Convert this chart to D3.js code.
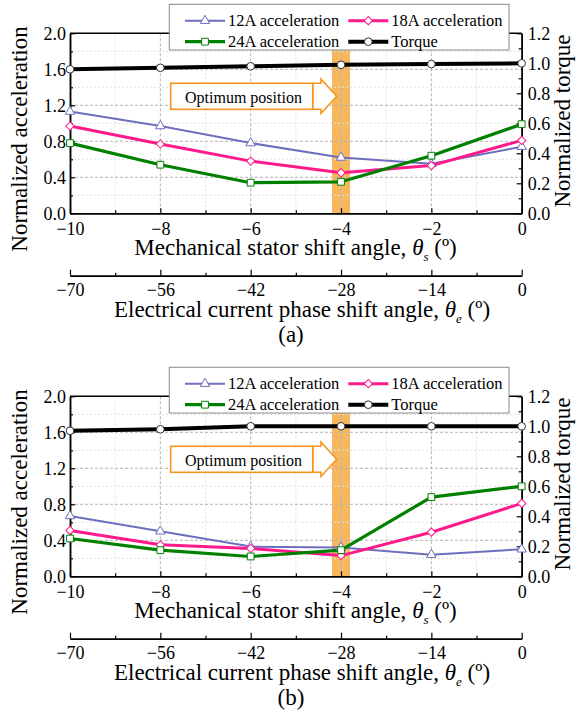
<!DOCTYPE html>
<html>
<head>
<meta charset="utf-8">
<script src="https://cdn.jsdelivr.net/npm/d3@7"></script>
<style>
body { margin: 0; background: #fff; }
svg { font-family: "Liberation Serif", "Times New Roman", serif; }
</style>
</head>
<body>
<svg id="chart" width="579" height="711"></svg>
<script>
/** x values: mechanical stator shift angle (deg) and the matching electrical axis */
var statorAngles = [-10, -8, -6, -4, -2, 0];
var statorMinor = [-9, -7, -5, -3, -1];
var electricalTicks = [-70, -56, -42, -28, -14, 0];
var electricalMinor = [-63, -49, -35, -21, -7];

/** y ticks */
var accelTicks = [0, 0.4, 0.8, 1.2, 1.6, 2.0];
var accelMinor = [0.2, 0.6, 1.0, 1.4, 1.8];
var torqueTicks = [0, 0.2, 0.4, 0.6, 0.8, 1.0, 1.2];
var torqueMinor = [0.1, 0.3, 0.5, 0.7, 0.9, 1.1];

/** panel (a) */
var accel12A_a = [1.13, 0.97, 0.78, 0.62, 0.55, 0.74];
var accel18A_a = [0.97, 0.77, 0.58, 0.45, 0.53, 0.81];
var accel24A_a = [0.78, 0.54, 0.34, 0.35, 0.64, 0.99];
var torque_a = [0.96, 0.97, 0.98, 0.99, 0.995, 1.0];

/** panel (b) */
var accel12A_b = [0.67, 0.50, 0.33, 0.32, 0.24, 0.30];
var accel18A_b = [0.51, 0.35, 0.31, 0.23, 0.49, 0.81];
var accel24A_b = [0.42, 0.29, 0.22, 0.29, 0.88, 1.0];
var torque_b = [0.97, 0.98, 1.0, 1.0, 1.0, 1.0];

var seriesNames = ['12A acceleration', '18A acceleration', '24A acceleration', 'Torque'];
var panelLabels = ['(a)', '(b)'];
var optimumBand = [-4.2, -3.8];
var optimumText = 'Optimum position';

/** layout */
var plotLeft = 70,
    plotRight = 521.7,
    plotTop = 33.3,
    plotBottom = 213.3,
    elecAxisY = 275.7,
    panelShift = 363;

var serif = '"Liberation Serif", "Times New Roman", serif';

var svg = d3.select('#chart');

var x = d3.scaleLinear().domain([-10, 0]).range([plotLeft, plotRight]);
var xe = d3.scaleLinear().domain([-70, 0]).range([plotLeft, plotRight]);
var y = d3.scaleLinear().domain([0, 2]).range([plotBottom, plotTop]);
var yT = d3.scaleLinear().domain([0, 1.2]).range([plotBottom, plotTop]);

var styles = [
    {color: '#6e6ebf', width: 2, symbol: d3.symbolTriangle, size: 38, rot: 0},
    {color: '#ff1a8c', width: 3, symbol: d3.symbolSquare, size: 34, rot: 45},
    {color: '#008000', width: 3.2, symbol: d3.symbolSquare, size: 46, rot: 0},
    {color: '#000000', width: 4, symbol: d3.symbolCircle, size: 46, rot: 0}
];

function styleAxis(g) {
    g.attr('font-family', serif);
    g.select('.domain').attr('stroke', '#000').attr('stroke-width', 1.5);
    g.selectAll('.tick line').attr('stroke', '#000').attr('stroke-width', 1.2);
    g.selectAll('.tick text').attr('fill', '#000').style('font-size', '18px');
}

function minorAxis(g) {
    styleAxis(g);
    g.selectAll('.tick text').remove();
}

function drawPanel(idx, series) {
    var g = svg.append('g').attr('transform', 'translate(0,' + (idx * panelShift) + ')');

    // optimum band
    g.append('rect')
        .attr('x', x(optimumBand[0]))
        .attr('y', plotTop)
        .attr('width', x(optimumBand[1]) - x(optimumBand[0]))
        .attr('height', plotBottom - plotTop)
        .attr('fill', '#f7b75f');

    // grid
    g.selectAll('.gminor').data(accelMinor).enter().append('line')
        .attr('x1', plotLeft).attr('x2', plotRight)
        .attr('y1', function (d) { return y(d); }).attr('y2', function (d) { return y(d); })
        .attr('stroke', '#e2e2e2').attr('stroke-dasharray', '2,2');
    g.selectAll('.gminorx').data(statorMinor).enter().append('line')
        .attr('y1', plotTop).attr('y2', plotBottom)
        .attr('x1', function (d) { return x(d); }).attr('x2', function (d) { return x(d); })
        .attr('stroke', '#e2e2e2').attr('stroke-dasharray', '2,2');
    g.selectAll('.gmajor').data(accelTicks.slice(1, -1)).enter().append('line')
        .attr('x1', plotLeft).attr('x2', plotRight)
        .attr('y1', function (d) { return y(d); }).attr('y2', function (d) { return y(d); })
        .attr('stroke', '#b4b4b4').attr('stroke-dasharray', '3,2');
    g.selectAll('.gmajorx').data(statorAngles.slice(1, -1)).enter().append('line')
        .attr('y1', plotTop).attr('y2', plotBottom)
        .attr('x1', function (d) { return x(d); }).attr('x2', function (d) { return x(d); })
        .attr('stroke', '#b4b4b4').attr('stroke-dasharray', '3,2');

    // frame + axes
    g.append('line').attr('x1', plotLeft).attr('x2', plotRight)
        .attr('y1', plotTop).attr('y2', plotTop)
        .attr('stroke', '#000').attr('stroke-width', 1.5);

    g.append('g').attr('transform', 'translate(0,' + plotBottom + ')')
        .call(d3.axisBottom(x).tickValues(statorMinor).tickSize(-3).tickSizeOuter(0))
        .call(minorAxis);
    g.append('g').attr('transform', 'translate(0,' + plotBottom + ')')
        .call(d3.axisBottom(x).tickValues(statorAngles).tickSize(-5).tickSizeOuter(0).tickPadding(9))
        .call(styleAxis);

    g.append('g').attr('transform', 'translate(' + plotLeft + ',0)')
        .call(d3.axisLeft(y).tickValues(accelMinor).tickSize(-3).tickSizeOuter(0))
        .call(minorAxis);
    g.append('g').attr('transform', 'translate(' + plotLeft + ',0)')
        .call(d3.axisLeft(y).tickValues(accelTicks).tickSize(-5).tickSizeOuter(0).tickPadding(4)
            .tickFormat(d3.format('.1f')))
        .call(styleAxis);

    g.append('g').attr('transform', 'translate(' + plotRight + ',0)')
        .call(d3.axisRight(yT).tickValues(torqueMinor).tickSize(-3).tickSizeOuter(0))
        .call(minorAxis);
    g.append('g').attr('transform', 'translate(' + plotRight + ',0)')
        .call(d3.axisRight(yT).tickValues(torqueTicks).tickSize(-5).tickSizeOuter(0).tickPadding(6)
            .tickFormat(d3.format('.1f')))
        .call(styleAxis);

    // electrical axis
    g.append('g').attr('transform', 'translate(0,' + elecAxisY + ')')
        .call(d3.axisBottom(xe).tickValues(electricalMinor).tickSize(-3).tickSizeOuter(0))
        .call(minorAxis);
    g.append('g').attr('transform', 'translate(0,' + elecAxisY + ')')
        .call(d3.axisBottom(xe).tickValues(electricalTicks).tickSize(-6).tickSizeOuter(0).tickPadding(8))
        .call(styleAxis);

    // axis titles
    var t1 = g.append('text').attr('x', 295.5).attr('y', 255)
        .attr('text-anchor', 'middle').style('font-size', '23px');
    t1.append('tspan').text('Mechanical stator shift angle, ');
    t1.append('tspan').style('font-style', 'italic').text('\u03b8');
    t1.append('tspan').style('font-style', 'italic').style('font-size', '13px').attr('dy', 6).text('s');
    t1.append('tspan').attr('dy', -6).text(' (\u00ba)');

    var t2 = g.append('text').attr('x', 302).attr('y', 317)
        .attr('text-anchor', 'middle').style('font-size', '23px');
    t2.append('tspan').text('Electrical current phase shift angle, ');
    t2.append('tspan').style('font-style', 'italic').text('\u03b8');
    t2.append('tspan').style('font-style', 'italic').style('font-size', '13px').attr('dy', 6).text('e');
    t2.append('tspan').attr('dy', -6).text(' (\u00ba)');

    g.append('text').attr('x', 291).attr('y', 342)
        .attr('text-anchor', 'middle').style('font-size', '23px')
        .text(panelLabels[idx]);

    g.append('text').attr('transform', 'translate(27,139) rotate(-90)')
        .attr('text-anchor', 'middle').style('font-size', '23px')
        .text('Normalized acceleration');
    g.append('text').attr('transform', 'translate(570,121) rotate(-90)')
        .attr('text-anchor', 'middle').style('font-size', '23px')
        .text('Normalized torque');

    // series lines
    series.forEach(function (s, i) {
        var yScale = i === 3 ? yT : y;
        var pts = statorAngles.map(function (a, j) { return [a, s[j]]; });
        var line = d3.line()
            .x(function (d) { return x(d[0]); })
            .y(function (d) { return yScale(d[1]); });
        g.append('path').datum(pts)
            .attr('d', line)
            .attr('fill', 'none')
            .attr('stroke', styles[i].color)
            .attr('stroke-width', styles[i].width)
            .attr('stroke-linejoin', 'round');
    });
    series.forEach(function (s, i) {
        var yScale = i === 3 ? yT : y;
        var pts = statorAngles.map(function (a, j) { return [a, s[j]]; });
        g.selectAll('.m' + i).data(pts).enter().append('path')
            .attr('d', d3.symbol().type(styles[i].symbol).size(styles[i].size))
            .attr('transform', function (d) {
                return 'translate(' + x(d[0]) + ',' + yScale(d[1]) + ') rotate(' + styles[i].rot + ')';
            })
            .attr('fill', '#fff')
            .attr('stroke', i === 3 ? '#333' : styles[i].color)
            .attr('stroke-width', 1);
    });

    // optimum position arrow
    g.append('polygon')
        .attr('points', [[312.7, 83.3], [321, 83.3], [321, 79], [336.7, 96.3], [321, 113.5], [321, 109.3], [312.7, 109.3]].join(' '))
        .attr('fill', '#fff').attr('stroke', '#f7941d').attr('stroke-width', 1.6);
    g.append('rect')
        .attr('x', 170.7).attr('y', 83.3).attr('width', 142).attr('height', 26)
        .attr('fill', '#fff').attr('stroke', '#f7941d').attr('stroke-width', 1.6);
    g.append('text').attr('x', 185).attr('y', 103.3)
        .style('font-size', '16px').text(optimumText);

    // legend
    var lg = g.append('g');
    lg.append('rect')
        .attr('x', 169.3).attr('y', 4.3).attr('width', 339.7).attr('height', 45.7)
        .attr('fill', '#fff').attr('stroke', '#8a8a8a').attr('stroke-width', 1);
    var legendPos = [[185, 20.7], [348.3, 20.7], [185, 41.7], [348.3, 41.7]];
    seriesNames.forEach(function (name, i) {
        var p = legendPos[i];
        lg.append('line')
            .attr('x1', p[0]).attr('x2', p[0] + 40)
            .attr('y1', p[1]).attr('y2', p[1])
            .attr('stroke', styles[i].color).attr('stroke-width', styles[i].width);
        lg.append('path')
            .attr('d', d3.symbol().type(styles[i].symbol).size(styles[i].size))
            .attr('transform', 'translate(' + (p[0] + 20) + ',' + p[1] + ') rotate(' + styles[i].rot + ')')
            .attr('fill', '#fff')
            .attr('stroke', i === 3 ? '#333' : styles[i].color)
            .attr('stroke-width', 1);
        lg.append('text')
            .attr('x', p[0] + 43).attr('y', p[1] + 5.5)
            .style('font-size', '16.5px')
            .text(name);
    });
}

drawPanel(0, [accel12A_a, accel18A_a, accel24A_a, torque_a]);
drawPanel(1, [accel12A_b, accel18A_b, accel24A_b, torque_b]);
</script>
</body>
</html>
